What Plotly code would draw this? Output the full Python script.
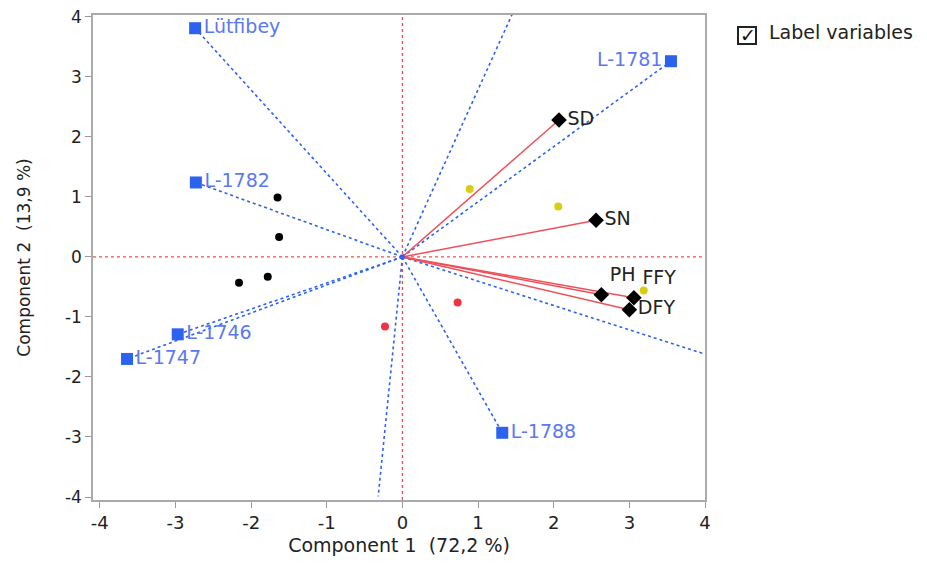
import plotly.graph_objects as go

# Genotype (observation-variable) rays
geno_names = ["Lütfibey", "L-1782", "L-1746", "L-1747", "L-1781", "L-1788"]
geno_x = [-2.74, -2.73, -2.97, -3.64, 3.55, 1.32]
geno_y = [3.81, 1.24, -1.29, -1.70, 3.26, -2.93]
geno_textpos = ["middle right", "middle right", "middle right", "middle right", "middle left", "middle right"]

# extra rays that run off the plot
extra_x = [1.45, -0.32, 4.0]
extra_y = [4.04, -3.99, -1.62]

# trait vectors
var_names = ["SD", "SN", "PH", "FFY", "DFY"]
var_x = [2.07, 2.56, 2.63, 3.06, 3.00]
var_y = [2.28, 0.61, -0.63, -0.68, -0.88]
var_textpos = ["middle right", "middle right", "top right", "top right", "middle right"]

# score points by group
black_x = [-1.65, -1.63, -2.16, -1.78]
black_y = [0.99, 0.33, -0.43, -0.33]
yellow_x = [0.89, 2.06, 3.19]
yellow_y = [1.13, 0.84, -0.56]
red_x = [-0.23, 0.73]
red_y = [-1.16, -0.76]

tick_vals = [-4, -3, -2, -1, 0, 1, 2, 3, 4]
tick_text = ["-4", "-3", "-2", "-1", "0", "1", "2", "3", "4"]

BLUE = "#2b63f0"
BLUE_TXT = "#5b78f2"
RED = "#f0505a"
FONT = "DejaVu Sans"

fig = go.Figure()

# reference lines
fig.add_trace(go.Scatter(x=[-4.09, 4.0], y=[0, 0], mode="lines",
                         line=dict(color=RED, width=1.3, dash="dot"), hoverinfo="skip", showlegend=False))
fig.add_trace(go.Scatter(x=[0, 0], y=[-4.05, 4.04], mode="lines",
                         line=dict(color=RED, width=1.3, dash="dot"), hoverinfo="skip", showlegend=False))

# blue dotted rays
for gx, gy in list(zip(geno_x, geno_y)) + list(zip(extra_x, extra_y)):
    fig.add_trace(go.Scatter(x=[0, gx], y=[0, gy], mode="lines",
                             line=dict(color=BLUE, width=1.6, dash="dot"), hoverinfo="skip", showlegend=False))

# red vectors
for vx, vy in zip(var_x, var_y):
    fig.add_trace(go.Scatter(x=[0, vx], y=[0, vy], mode="lines",
                             line=dict(color=RED, width=1.5), hoverinfo="skip", showlegend=False))

# origin dot
fig.add_trace(go.Scatter(x=[0], y=[0], mode="markers", marker=dict(color=BLUE, size=5), showlegend=False))

# score points
fig.add_trace(go.Scatter(x=black_x, y=black_y, mode="markers", marker=dict(color="black", size=8), showlegend=False))
fig.add_trace(go.Scatter(x=yellow_x, y=yellow_y, mode="markers", marker=dict(color="#d9cc12", size=8), showlegend=False))
fig.add_trace(go.Scatter(x=red_x, y=red_y, mode="markers", marker=dict(color="#ee3344", size=8), showlegend=False))

# genotype markers + labels
fig.add_trace(go.Scatter(x=geno_x, y=geno_y, mode="markers+text", text=geno_names,
                         textposition=geno_textpos,
                         textfont=dict(color=BLUE_TXT, size=19, family=FONT),
                         marker=dict(color=BLUE, size=12, symbol="square"), showlegend=False))

# variable markers + labels
fig.add_trace(go.Scatter(x=var_x, y=var_y, mode="markers+text", text=var_names,
                         textposition=var_textpos,
                         textfont=dict(color="#222222", size=19, family=FONT),
                         marker=dict(color="black", size=12, symbol="diamond"), showlegend=False))

# page body has an 8px margin: figure is sized/offset to keep the plot area near page x 93-705, y 14-500
fig.update_layout(
    width=919, height=557,
    margin=dict(l=85, r=222, t=7, b=65),
    plot_bgcolor="white", paper_bgcolor="white",
    font=dict(family=FONT, size=18, color="#222222"),
    xaxis=dict(range=[-4.09, 4.0], tickvals=tick_vals, ticktext=tick_text, automargin=False,
               ticklabeloverflow="allow",
               ticks="outside", ticklen=6, tickcolor="#999999", showgrid=False, zeroline=False,
               showline=True, linecolor="#aaaaaa", linewidth=1.5, mirror=True,
               title=dict(text="Component 1  (72,2 %)", font=dict(size=19), standoff=6),
               tickfont=dict(size=18)),
    yaxis=dict(range=[-4.05, 4.03], tickvals=tick_vals, ticktext=tick_text, automargin=False,
               ticklabeloverflow="allow",
               ticks="outside", ticklen=6, tickcolor="#999999", showgrid=False, zeroline=False,
               showline=True, linecolor="#aaaaaa", linewidth=1.5, mirror=True,
               title=dict(text="Component 2  (13,9 %)", font=dict(size=17), standoff=30),
               tickfont=dict(size=17)),
)

# checkbox "Label variables" (paper coords of a 612x485 plot area starting at page x=93, y=15)
PW, PH_, X0, YB = 612, 485, 93, 500
fig.add_shape(type="rect", xref="paper", yref="paper",
              x0=(738 - X0) / PW, x1=(756 - X0) / PW, y0=(YB - 44) / PH_, y1=(YB - 27) / PH_,
              line=dict(color="#222222", width=2), fillcolor="white")
fig.add_annotation(xref="paper", yref="paper", x=(748 - X0) / PW, y=(YB - 35) / PH_,
                   text="✓", showarrow=False, font=dict(size=19, color="#111111", family=FONT),
                   xanchor="center", yanchor="middle")
fig.add_annotation(xref="paper", yref="paper", x=(767 - X0) / PW, y=(YB - 32) / PH_,
                   text="Label variables", showarrow=False, font=dict(size=19, color="#222222"),
                   xanchor="left", yanchor="middle")

fig.write_html("out.html")
